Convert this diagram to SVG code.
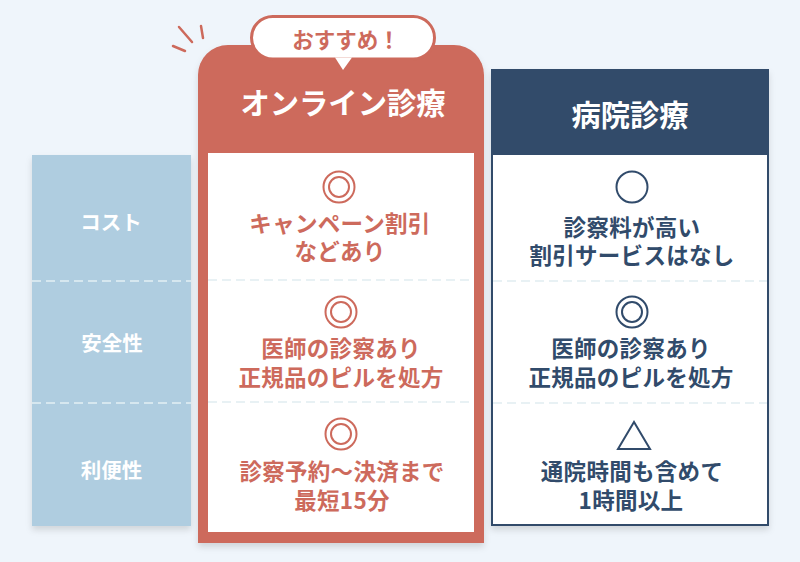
<svg xmlns="http://www.w3.org/2000/svg" width="800" height="562" viewBox="0 0 800 562">
<defs>
<style>
text{font-family:"Noto Sans CJK JP","Noto Sans",sans-serif;font-weight:700;text-anchor:middle}
.b{font-size:22.500px;letter-spacing:.3px}
.r{fill:#cd6a5c}.n{fill:#314b6b}.w{fill:#fff}
.t{font-size:29.300px}
.l{font-size:20.500px}
.dw{stroke:#e1edf1;stroke-width:1.500;stroke-dasharray:9 5;fill:none}
.dl{stroke:#e4eff3;stroke-width:1.500;stroke-dasharray:9 5;fill:none}
.rr{fill:none;stroke:#cd6a5c;stroke-width:2}
.nn{fill:none;stroke:#314b6b;stroke-width:2}
</style>
<filter id="s" x="-10%" y="-10%" width="120%" height="120%"><feDropShadow dx="0" dy="4" stdDeviation="3" flood-color="#000" flood-opacity=".13"/></filter>
</defs>
<rect width="800" height="562" fill="#eff5fb"/>
<g id="labels">
<rect x="32" y="155" width="159" height="371" fill="#afcde0" filter="url(#s)"/>
<path class="dl" d="M32 281H191M32 403H191"/>
<text class="l w" x="111" y="230">コスト</text>
<text class="l w" x="112" y="351">安全性</text>
<text class="l w" x="111.500" y="478">利便性</text>
</g>
<g id="online">
<path d="M198 543V75a30 30 0 0 1 30-30H454a30 30 0 0 1 30 30V543Z" fill="#cd6a5c" filter="url(#s)"/>
<rect x="208" y="153" width="266" height="379" fill="#fff"/>
<path class="dw" d="M208 280H474M208 402H474"/>
<text class="t w" x="343" y="114">オンライン診療</text>
<circle class="rr" cx="339" cy="187" r="15.500"/><circle class="rr" cx="339" cy="187" r="10"/>
<text class="b r" x="340" y="232">キャンペーン割引</text>
<text class="b r" x="340" y="260">などあり</text>
<circle class="rr" cx="341" cy="312" r="15.500"/><circle class="rr" cx="341" cy="312" r="10"/>
<text class="b r" x="341" y="357">医師の診察あり</text>
<text class="b r" x="341" y="386">正規品のピルを処方</text>
<circle class="rr" cx="341" cy="434" r="15.500"/><circle class="rr" cx="341" cy="434" r="10"/>
<text class="b r" x="342" y="480">診察予約〜決済まで</text>
<text class="b r" x="342" y="509">最短15分</text>
</g>
<g id="badge">
<path d="M272.750 16.500H413.250a21.250 21.250 0 0 1 0 42.500H272.750a21.250 21.250 0 0 1 0-42.500Z" fill="#fff" stroke="#cd6a5c" stroke-width="3"/>
<path d="M335 57.500H352L343 70Z" fill="#fff"/>
<text class="r" x="346" y="48" font-size="21.500">おすすめ！</text>
<path d="M179 27L192 42M201 26L203 38M173 46L185 51" stroke="#cd6a5c" stroke-width="2.500" stroke-linecap="round" fill="none"/>
</g>
<g id="clinic">
<rect x="491" y="69" width="278" height="457" fill="#314b6b" filter="url(#s)"/>
<rect x="493" y="155" width="274" height="369" fill="#fff"/>
<path class="dw" d="M493 281H767M493 403H767"/>
<text class="t w" x="630" y="126">病院診療</text>
<circle class="nn" cx="632" cy="187" r="15.500"/>
<text class="b n" x="632" y="236">診察料が高い</text>
<text class="b n" x="632" y="264">割引サービスはなし</text>
<circle class="nn" cx="632" cy="312" r="15.500"/><circle class="nn" cx="632" cy="312" r="10"/>
<text class="b n" x="631" y="357">医師の診察あり</text>
<text class="b n" x="631" y="386">正規品のピルを処方</text>
<path class="nn" d="M634 422L618 449H650Z"/>
<text class="b n" x="632" y="480">通院時間も含めて</text>
<text class="b n" x="631" y="509">1時間以上</text>
</g>
</svg>
